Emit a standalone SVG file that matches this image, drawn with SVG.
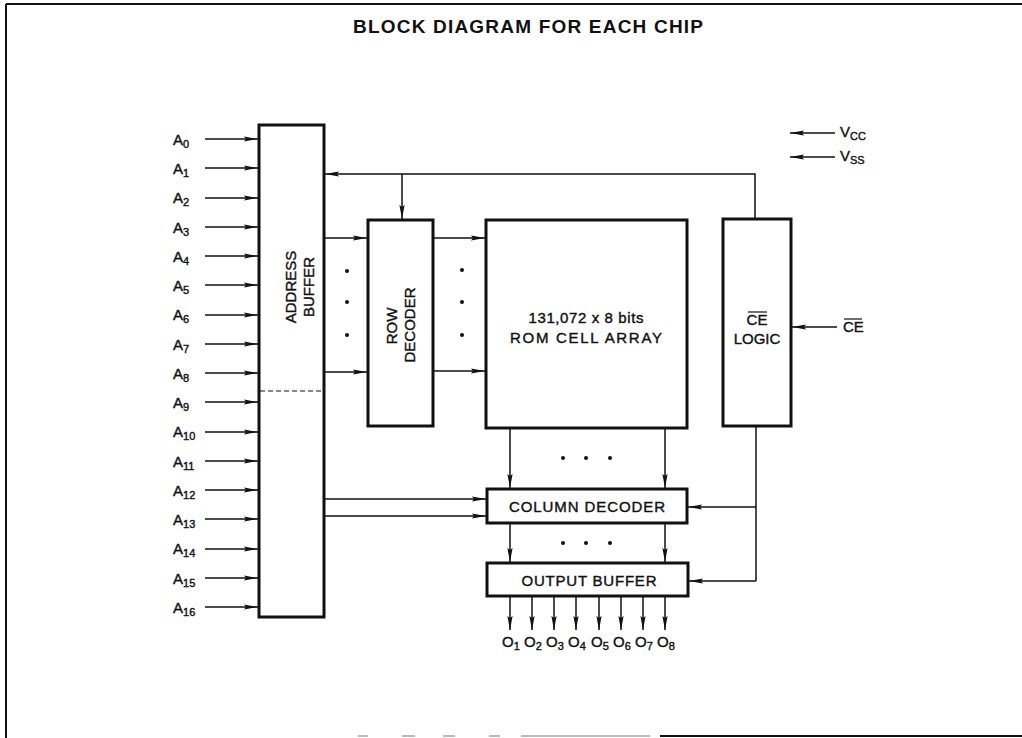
<svg xmlns="http://www.w3.org/2000/svg" width="1022" height="738" viewBox="0 0 1022 738">
<style>
.box{fill:#fff;stroke:#111;stroke-width:3}
.ln{fill:none;stroke:#111;stroke-width:1.5}
.arr{fill:none;stroke:#111;stroke-width:1.5;marker-end:url(#ah)}
.t{font-family:"Liberation Sans",Arial,sans-serif;font-size:15px;fill:#111;stroke:#111;stroke-width:0.4}
.s{font-size:11px}
.ttl{font-family:"Liberation Sans",Arial,sans-serif;font-size:19px;font-weight:bold;fill:#111}
.dot{fill:#111}
</style>
<defs>
<marker id="ah" viewBox="0 0 14 6" refX="14" refY="3" markerWidth="14" markerHeight="6" markerUnits="userSpaceOnUse" orient="auto">
<path d="M0,0.4 L14,3 L0,5.6 L2,3 Z" fill="#111"/>
</marker>
</defs>
<rect width="1022" height="738" fill="#fff"/>
<g id="frame">
<line x1="6" y1="4" x2="1022" y2="4" stroke="#111" stroke-width="2"/>
<line x1="6" y1="4" x2="6" y2="738" stroke="#111" stroke-width="2"/>
<line x1="660" y1="736" x2="1022" y2="736" stroke="#111" stroke-width="2"/>
<g stroke="#bbb" stroke-width="2">
<line x1="358" y1="736" x2="368" y2="736"/>
<line x1="402" y1="736" x2="415" y2="736"/>
<line x1="443" y1="736" x2="455" y2="736"/>
<line x1="489" y1="736" x2="500" y2="736"/>
<line x1="521" y1="736" x2="650" y2="736"/>
</g>
</g>
<g id="title">
<text class="ttl" x="353" y="33" textLength="350" lengthAdjust="spacing">BLOCK DIAGRAM FOR EACH CHIP</text>
</g>
<g id="address-buffer">
<rect class="box" x="259" y="125" width="65" height="492"/>
<line x1="260" y1="391" x2="323" y2="391" stroke="#111" stroke-width="1.2" stroke-dasharray="5,3"/>
<text class="t" transform="translate(296,287) rotate(-90)" text-anchor="middle">ADDRESS</text>
<text class="t" transform="translate(314,287) rotate(-90)" text-anchor="middle">BUFFER</text>
</g>
<g id="row-decoder">
<rect class="box" x="368" y="220" width="65" height="206"/>
<text class="t" transform="translate(397,326) rotate(-90)" text-anchor="middle">ROW</text>
<text class="t" transform="translate(415,325) rotate(-90)" text-anchor="middle">DECODER</text>
</g>
<g id="rom-cell-array">
<rect class="box" x="486" y="220" width="201" height="208"/>
<text class="t" x="586" y="323" text-anchor="middle" textLength="115" lengthAdjust="spacing">131,072 x 8 bits</text>
<text class="t" x="586" y="343" text-anchor="middle" textLength="152" lengthAdjust="spacing">ROM CELL ARRAY</text>
</g>
<g id="ce-logic">
<rect class="box" x="723" y="219" width="68" height="207"/>
<text class="t" x="757" y="325" text-anchor="middle">CE</text>
<line x1="748" y1="312" x2="767" y2="312" stroke="#111" stroke-width="1.2"/>
<text class="t" x="757" y="344" text-anchor="middle">LOGIC</text>
</g>
<g id="column-decoder">
<rect class="box" x="487" y="489" width="200" height="34"/>
<text class="t" x="587" y="512" text-anchor="middle" textLength="156" lengthAdjust="spacing">COLUMN DECODER</text>
</g>
<g id="output-buffer">
<rect class="box" x="487" y="563" width="201" height="33"/>
<text class="t" x="589" y="586" text-anchor="middle" textLength="135" lengthAdjust="spacing">OUTPUT BUFFER</text>
</g>
<g id="input-labels" class="t">
<text x="173" y="145">A<tspan class="s" dy="3">0</tspan></text>
<text x="173" y="174">A<tspan class="s" dy="3">1</tspan></text>
<text x="173" y="203">A<tspan class="s" dy="3">2</tspan></text>
<text x="173" y="233">A<tspan class="s" dy="3">3</tspan></text>
<text x="173" y="262">A<tspan class="s" dy="3">4</tspan></text>
<text x="173" y="291">A<tspan class="s" dy="3">5</tspan></text>
<text x="173" y="320">A<tspan class="s" dy="3">6</tspan></text>
<text x="173" y="350">A<tspan class="s" dy="3">7</tspan></text>
<text x="173" y="379">A<tspan class="s" dy="3">8</tspan></text>
<text x="173" y="408">A<tspan class="s" dy="3">9</tspan></text>
<text x="173" y="437">A<tspan class="s" dy="3">10</tspan></text>
<text x="173" y="467">A<tspan class="s" dy="3">11</tspan></text>
<text x="173" y="496">A<tspan class="s" dy="3">12</tspan></text>
<text x="173" y="525">A<tspan class="s" dy="3">13</tspan></text>
<text x="173" y="554">A<tspan class="s" dy="3">14</tspan></text>
<text x="173" y="584">A<tspan class="s" dy="3">15</tspan></text>
<text x="173" y="613">A<tspan class="s" dy="3">16</tspan></text>
</g>
<g id="power-labels" class="t">
<text x="840" y="137">V<tspan class="s" dy="3">CC</tspan></text>
<text x="840" y="161">V<tspan class="s" dy="3">SS</tspan></text>
<text x="843" y="332">CE</text>
<line x1="844" y1="319" x2="862" y2="319" stroke="#111" stroke-width="1.2"/>
</g>
<g id="output-labels" class="t">
<text x="502" y="647">O<tspan class="s" dy="3">1</tspan></text>
<text x="524" y="647">O<tspan class="s" dy="3">2</tspan></text>
<text x="546" y="647">O<tspan class="s" dy="3">3</tspan></text>
<text x="568" y="647">O<tspan class="s" dy="3">4</tspan></text>
<text x="591" y="647">O<tspan class="s" dy="3">5</tspan></text>
<text x="613" y="647">O<tspan class="s" dy="3">6</tspan></text>
<text x="635" y="647">O<tspan class="s" dy="3">7</tspan></text>
<text x="657" y="647">O<tspan class="s" dy="3">8</tspan></text>
</g>
<g id="connectors">
<line class="arr" x1="205" y1="139" x2="258" y2="139"/>
<line class="arr" x1="205" y1="168" x2="258" y2="168"/>
<line class="arr" x1="205" y1="198" x2="258" y2="198"/>
<line class="arr" x1="205" y1="227" x2="258" y2="227"/>
<line class="arr" x1="205" y1="256" x2="258" y2="256"/>
<line class="arr" x1="205" y1="285" x2="258" y2="285"/>
<line class="arr" x1="205" y1="315" x2="258" y2="315"/>
<line class="arr" x1="205" y1="344" x2="258" y2="344"/>
<line class="arr" x1="205" y1="373" x2="258" y2="373"/>
<line class="arr" x1="205" y1="402" x2="258" y2="402"/>
<line class="arr" x1="205" y1="432" x2="258" y2="432"/>
<line class="arr" x1="205" y1="461" x2="258" y2="461"/>
<line class="arr" x1="205" y1="490" x2="258" y2="490"/>
<line class="arr" x1="205" y1="519" x2="258" y2="519"/>
<line class="arr" x1="205" y1="549" x2="258" y2="549"/>
<line class="arr" x1="205" y1="578" x2="258" y2="578"/>
<line class="arr" x1="205" y1="607" x2="258" y2="607"/>
<line class="arr" x1="325" y1="238" x2="367" y2="238"/>
<line class="arr" x1="325" y1="372" x2="367" y2="372"/>
<circle class="dot" cx="347" cy="271" r="2"/>
<circle class="dot" cx="347" cy="302" r="2"/>
<circle class="dot" cx="347" cy="335" r="2"/>
<line class="arr" x1="434" y1="238" x2="485" y2="238"/>
<line class="arr" x1="434" y1="371" x2="485" y2="371"/>
<circle class="dot" cx="462" cy="270" r="2"/>
<circle class="dot" cx="462" cy="302" r="2"/>
<circle class="dot" cx="462" cy="335" r="2"/>
<polyline class="arr" points="755,218 755,174 325,174"/>
<line class="arr" x1="402" y1="174" x2="402" y2="219"/>
<line class="arr" x1="837" y1="327" x2="792" y2="327"/>
<line class="arr" x1="835" y1="133" x2="790" y2="133"/>
<line class="arr" x1="835" y1="157" x2="790" y2="157"/>
<line class="arr" x1="510" y1="429" x2="510" y2="488"/>
<line class="arr" x1="665" y1="429" x2="665" y2="488"/>
<circle class="dot" cx="563" cy="458" r="2"/>
<circle class="dot" cx="586" cy="458" r="2"/>
<circle class="dot" cx="610" cy="458" r="2"/>
<line class="arr" x1="510" y1="524" x2="510" y2="562"/>
<line class="arr" x1="665" y1="524" x2="665" y2="562"/>
<circle class="dot" cx="563" cy="543" r="2"/>
<circle class="dot" cx="586" cy="543" r="2"/>
<circle class="dot" cx="610" cy="543" r="2"/>
<line class="arr" x1="325" y1="499" x2="486" y2="499"/>
<line class="arr" x1="325" y1="516" x2="486" y2="516"/>
<line class="ln" x1="756" y1="427" x2="756" y2="581"/>
<line class="arr" x1="756" y1="507" x2="688" y2="507"/>
<line class="arr" x1="756" y1="581" x2="689" y2="581"/>
<line class="arr" x1="510" y1="597" x2="510" y2="630"/>
<line class="arr" x1="532" y1="597" x2="532" y2="630"/>
<line class="arr" x1="554" y1="597" x2="554" y2="630"/>
<line class="arr" x1="576" y1="597" x2="576" y2="630"/>
<line class="arr" x1="599" y1="597" x2="599" y2="630"/>
<line class="arr" x1="621" y1="597" x2="621" y2="630"/>
<line class="arr" x1="643" y1="597" x2="643" y2="630"/>
<line class="arr" x1="665" y1="597" x2="665" y2="630"/>
</g>
</svg>
